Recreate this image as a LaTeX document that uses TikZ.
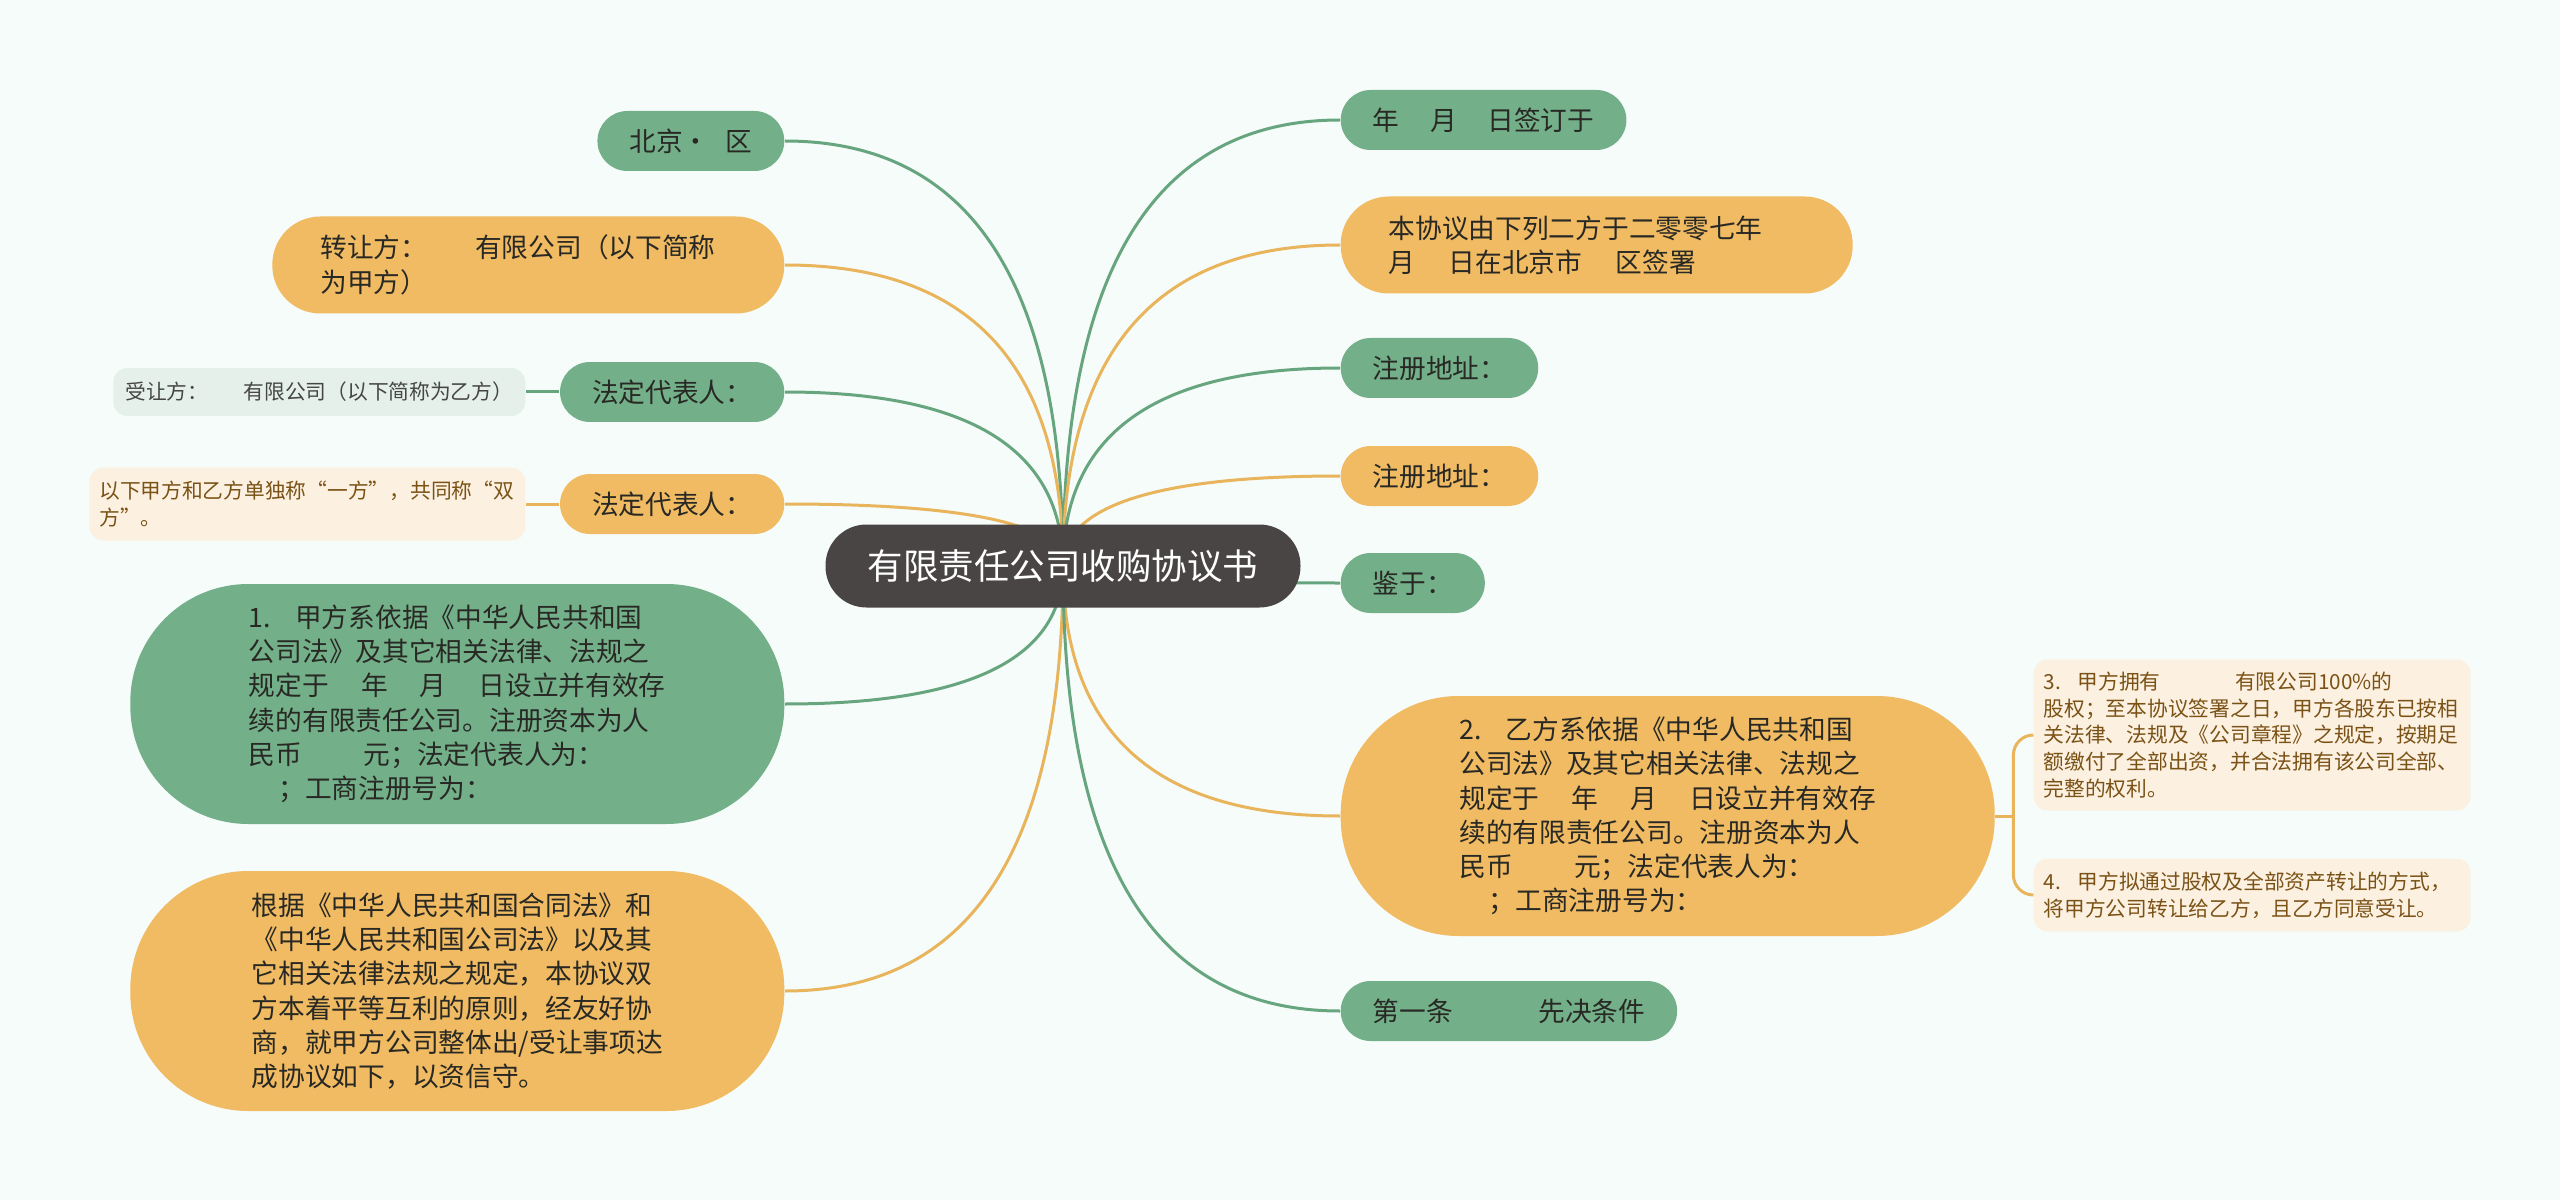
\documentclass[tikz,border=0pt]{standalone}
\usepackage{fontspec}
\setmainfont{Noto Sans CJK SC}
\usetikzlibrary{positioning,calc,backgrounds}

\definecolor{bgmint}{RGB}{246,252,250}
\definecolor{rootgray}{RGB}{74,69,69}
\definecolor{mmgreen}{RGB}{115,176,137}
\definecolor{mmorange}{RGB}{240,187,98}
\definecolor{linegreen}{RGB}{103,165,126}
\definecolor{lineorange}{RGB}{232,180,92}
\definecolor{leafgreen}{RGB}{228,240,233}
\definecolor{leaforange}{RGB}{252,240,224}
\definecolor{topictext}{RGB}{40,40,36}
\definecolor{leafgtext}{RGB}{70,70,70}
\definecolor{leafotext}{RGB}{122,82,22}

\begin{document}
\begin{tikzpicture}[x=0.1mm, y=-0.1mm,
    root/.style={fill=rootgray, text=white, rounded corners=4.1mm, minimum width=47.5mm, minimum height=8.3mm, inner sep=0pt, font=\fontsize{10.1}{12}\selectfont},
    topic/.style={rounded corners=3mm, minimum height=6mm, inner xsep=3.2mm, inner ysep=0pt, align=left, text=topictext, font=\fontsize{7.6}{9.76}\selectfont},
    gtopic/.style={topic, fill=mmgreen},
    otopic/.style={topic, fill=mmorange},
    twoline/.style={minimum height=9.7mm, rounded corners=4.8mm, text width=41.6mm, inner xsep=4.8mm},
    bigbox/.style={minimum width=65.4mm, minimum height=24mm, rounded corners=11.8mm},
    leaf/.style={rounded corners=1.4mm, inner xsep=1mm, inner ysep=0pt, align=left, font=\fontsize{5.9}{7.57}\selectfont},
    gleaf/.style={leaf, fill=leafgreen, text=leafgtext},
    oleaf/.style={leaf, fill=leaforange, text=leafotext},
    gline/.style={draw=linegreen, line width=0.3mm},
    oline/.style={draw=lineorange, line width=0.3mm},
    branch/.style={to path={.. controls ($(\tikztostart)!.667!(\tikztostart|-\tikztotarget)$) and ($(\tikztotarget)!.667!(\tikztostart|-\tikztotarget)$) .. (\tikztotarget)}}
]
\useasboundingbox (0,0) rectangle (2560,1200);

% centre
\node[root] (root) at (1063,566) {有限责任公司收购协议书};

% left side
\node[gtopic, anchor=east] (bj) at (785,141) {北京·\hspace{0.6em}区};
\node[otopic, twoline, anchor=east] (zrf) at (785,265) {转让方：\hspace{1.8em}有限公司（以下简称\\为甲方）};
\node[gtopic, anchor=east] (fd1) at (785,392) {法定代表人：};
\node[gleaf, anchor=east, minimum width=41.2mm, minimum height=4.8mm] (srf) at (526,392) {受让方：\hspace{1.7em}有限公司（以下简称为乙方）};
\node[otopic, anchor=east] (fd2) at (785,504) {法定代表人：};
\node[oleaf, anchor=east, text width=41.6mm, minimum height=7.3mm] (yx) at (526,504) {以下甲方和乙方单独称“一方”，共同称“双\\方”。};
\node[gtopic, bigbox, anchor=east] (n1) at (785,704) {1.\hspace{0.9em}甲方系依据《中华人民共和国\\公司法》及其它相关法律、法规之\\规定于\hspace{1.2em}年\hspace{1.2em}月\hspace{1.2em}日设立并有效存\\续的有限责任公司。注册资本为人\\民币\hspace{2.3em}元；法定代表人为：\\\hspace{1.1em}；工商注册号为：};
\node[otopic, bigbox, anchor=east] (gj) at (785,991) {根据《中华人民共和国合同法》和\\《中华人民共和国公司法》以及其\\它相关法律法规之规定，本协议双\\方本着平等互利的原则，经友好协\\商，就甲方公司整体出/受让事项达\\成协议如下，以资信守。};

% right side
\node[gtopic, anchor=west] (rq) at (1340,120) {年\hspace{1.15em}月\hspace{1.15em}日签订于};
\node[otopic, twoline, anchor=west] (bxy) at (1340,245) {本协议由下列二方于二零零七年\\月\hspace{1.25em}日在北京市\hspace{1.25em}区签署};
\node[gtopic, anchor=west] (zc1) at (1340,368) {注册地址：};
\node[otopic, anchor=west] (zc2) at (1340,476) {注册地址：};
\node[gtopic, anchor=west] (jy) at (1340,583) {鉴于：};
\node[otopic, bigbox, anchor=west] (n2) at (1340,816) {2.\hspace{0.9em}乙方系依据《中华人民共和国\\公司法》及其它相关法律、法规之\\规定于\hspace{1.2em}年\hspace{1.2em}月\hspace{1.2em}日设立并有效存\\续的有限责任公司。注册资本为人\\民币\hspace{2.3em}元；法定代表人为：\\\hspace{1.1em}；工商注册号为：};
\node[gtopic, anchor=west] (dyt) at (1340,1011) {第一条\hspace{3.2em}先决条件};
\node[oleaf, anchor=west, text width=41.7mm, minimum height=15.1mm] (n3) at (2033,735) {3.\hspace{0.8em}甲方拥有\hspace{3.6em}有限公司100\%的\\股权；至本协议签署之日，甲方各股东已按相\\关法律、法规及《公司章程》之规定，按期足\\额缴付了全部出资，并合法拥有该公司全部、\\完整的权利。};
\node[oleaf, anchor=west, text width=41.7mm, minimum height=7.3mm] (n4) at (2033,895) {4.\hspace{0.8em}甲方拟通过股权及全部资产转让的方式，\\将甲方公司转让给乙方，且乙方同意受让。};
\coordinate (brk) at ($(n2.east)+(18,0)$);

\begin{pgfonlayer}{background}
\fill[bgmint] (0,0) rectangle (2560,1200);
\draw[gline] (root.center) to[branch] (bj.east);
\draw[oline] (root.center) to[branch] (zrf.east);
\draw[gline] (root.center) to[branch] (fd1.east);
\draw[oline] (root.center) to[branch] (fd2.east);
\draw[gline] (root.center) to[branch] (n1.east);
\draw[oline] (root.center) to[branch] (gj.east);
\draw[gline] (root.center) to[branch] (rq.west);
\draw[oline] (root.center) to[branch] (bxy.west);
\draw[gline] (root.center) to[branch] (zc1.west);
\draw[oline] (root.center) to[branch] (zc2.west);
\draw[gline] (root.center) to[branch] (jy.west);
\draw[oline] (root.center) to[branch] (n2.west);
\draw[gline] (root.center) to[branch] (dyt.west);
\draw[gline] (fd1.west) -- (srf.east);
\draw[oline] (fd2.west) -- (yx.east);
\draw[oline] (n2.east) -- (brk);
\draw[oline, rounded corners=2mm] (n3.west) -| (brk) |- (n4.west);
\end{pgfonlayer}
\end{tikzpicture}
\end{document}
